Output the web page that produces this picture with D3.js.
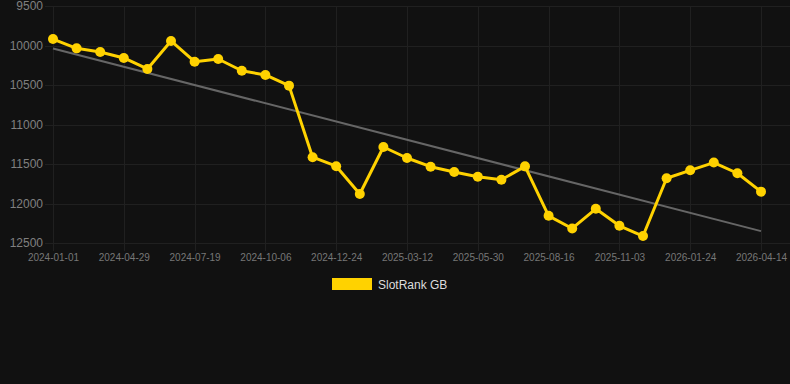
<!DOCTYPE html>
<html><head><meta charset="utf-8">
<script src="https://cdn.jsdelivr.net/npm/d3@7"></script>
<style>html,body{margin:0;padding:0;background:#111111;}svg{display:block;}</style>
</head><body>
<svg id="c" width="790" height="384"></svg>
<script>
const categories = ["2024-01-01","2024-02-10","2024-03-21","2024-04-29","2024-05-26","2024-06-22","2024-07-19","2024-08-15","2024-09-10","2024-10-06","2024-11-01","2024-11-28","2024-12-24","2025-01-19","2025-02-14","2025-03-12","2025-04-07","2025-05-04","2025-05-30","2025-06-25","2025-07-21","2025-08-16","2025-09-11","2025-10-08","2025-11-03","2025-11-30","2025-12-28","2026-01-24","2026-02-20","2026-03-19","2026-04-14"];
const seriesName = "SlotRank GB";
const values = [9918,10036,10082,10158,10297,9943,10205,10171,10320,10373,10508,11414,11528,11880,11285,11424,11534,11601,11661,11699,11530,12156,12316,12067,12282,12412,11680,11580,11482,11617,11850];
const yTicks = [9500,10000,10500,11000,11500,12000,12500];
const xTickLabels = ["2024-01-01","2024-04-29","2024-07-19","2024-10-06","2024-12-24","2025-03-12","2025-05-30","2025-08-16","2025-11-03","2026-01-24","2026-04-14"];

const svg = d3.select("#c");
const W = 790, plotTop = 6, plotBottom = 243, plotLeft = 53, plotRight = 761;
const x = d3.scalePoint().domain(categories).range([plotLeft, plotRight]);
const y = d3.scaleLinear().domain([9500, 12500]).range([plotTop, plotBottom]);

svg.append("rect").attr("width", W).attr("height", 384).attr("fill", "#111111");

// horizontal grid
const g = svg.append("g");
g.selectAll("line.h").data(yTicks).join("line")
  .attr("x1", 45).attr("x2", W).attr("y1", d => Math.round(y(d)) + 0.5).attr("y2", d => Math.round(y(d)) + 0.5)
  .attr("stroke", "#202020").attr("stroke-width", 1);
// vertical grid
g.selectAll("line.v").data(xTickLabels).join("line")
  .attr("x1", d => Math.round(x(d)) + 0.5).attr("x2", d => Math.round(x(d)) + 0.5)
  .attr("y1", plotTop).attr("y2", plotBottom + 8)
  .attr("stroke", "#202020").attr("stroke-width", 1);

// y labels
const yAxis = d3.axisLeft(y).tickValues(yTicks).tickSize(0).tickPadding(0).tickFormat(d => String(d));
const ya = svg.append("g").attr("transform", "translate(43,0)").call(yAxis);
ya.select(".domain").remove();
ya.selectAll("text").attr("fill", "#808080").style("font-family", "Liberation Sans, Arial, sans-serif").style("font-size", "12px");

// x labels
const xAxis = d3.axisBottom(x).tickValues(xTickLabels).tickSize(0).tickPadding(0);
const xa = svg.append("g").attr("transform", "translate(0,254)").call(xAxis);
xa.select(".domain").remove();
xa.selectAll("text").attr("fill", "#777777").style("font-family", "Liberation Sans, Arial, sans-serif").style("font-size", "10px");

// trend line (least squares)
const n = values.length;
const idx = d3.range(n);
const mx = d3.mean(idx), my = d3.mean(values);
const slope = d3.sum(idx, i => (i - mx) * (values[i] - my)) / d3.sum(idx, i => (i - mx) ** 2);
const icpt = my - slope * mx;
svg.append("line")
  .attr("x1", x(categories[0])).attr("y1", y(icpt))
  .attr("x2", x(categories[n - 1])).attr("y2", y(icpt + slope * (n - 1)))
  .attr("stroke", "#666666").attr("stroke-width", 2);

// series line
const color = "#FFD200";
const line = d3.line().x((d, i) => x(categories[i])).y(d => y(d));
svg.append("path").datum(values).attr("d", line)
  .attr("fill", "none").attr("stroke", color).attr("stroke-width", 3).attr("stroke-linejoin", "round");
svg.selectAll("circle.p").data(values).join("circle")
  .attr("cx", (d, i) => x(categories[i])).attr("cy", d => y(d)).attr("r", 5).attr("fill", color);

// legend
svg.append("rect").attr("x", 332).attr("y", 278).attr("width", 40).attr("height", 12).attr("fill", color);
svg.append("text").attr("x", 378).attr("y", 288.5).text(seriesName)
  .attr("fill", "#dddddd").style("font-family", "Liberation Sans, Arial, sans-serif").style("font-size", "12px");
</script>
</body></html>
